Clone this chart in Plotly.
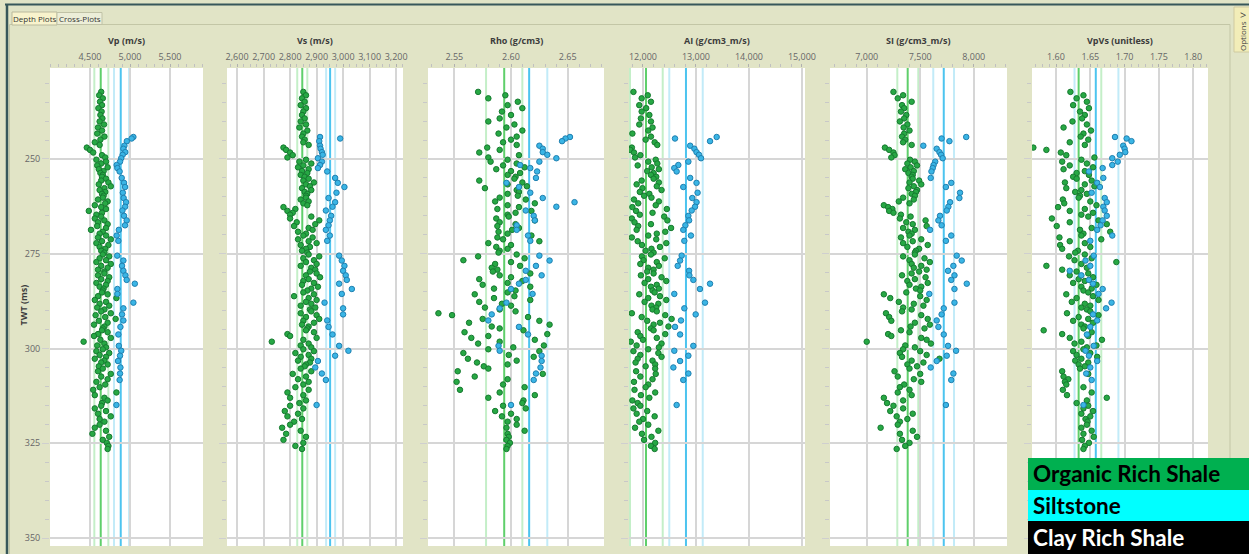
import plotly.graph_objects as go

W, H = 1249, 554

# ---------------- sample times (ms) ----------------
twt_org = [
    232.3, 233.2, 234.0, 234.9, 235.8, 236.6, 237.5, 238.4, 239.3,
    240.1, 240.9, 241.7, 242.5, 243.3, 244.1, 244.9,
    245.6, 246.3, 247.0, 247.6, 248.3, 249.0, 249.6,
    250.2, 250.7, 251.2, 251.7, 252.2, 252.7, 253.2, 253.7, 254.2, 254.7,
    255.2, 255.7, 256.2, 256.7, 257.2, 257.7, 258.2, 258.7, 259.2, 259.7,
    260.2, 260.7, 261.2, 261.7, 262.2, 262.7, 263.2, 263.7, 264.2, 264.7,
    265.2, 265.7, 266.2, 266.7, 267.2, 267.7, 268.2, 268.7, 269.2, 269.7,
    270.2, 270.7, 271.2, 271.7, 272.2, 272.7, 273.2, 273.7, 274.2, 274.7,
    275.2, 275.7, 276.2, 276.7, 277.2, 277.7, 278.2, 278.7, 279.2, 279.7,
    280.2, 280.7, 281.2, 281.7, 282.2, 282.7, 283.2, 283.7, 284.2, 284.7,
    285.2, 285.7, 286.2, 286.7, 287.2, 287.7, 288.2, 288.7, 289.2, 289.7,
    290.2, 290.7, 291.2, 291.7, 292.2, 292.7, 293.2, 293.7, 294.2, 294.7,
    295.2, 295.7, 296.2, 296.7, 297.2, 297.7, 298.2, 298.7, 299.2, 299.7,
    300.2, 300.7, 301.2, 301.7, 302.2, 302.7, 303.2, 303.7, 304.2, 304.7,
    305.3, 306.0, 306.7, 307.4, 308.1, 308.8, 309.5,
    310.2, 310.9, 311.6, 312.3, 313.0, 313.7, 314.4,
    315.1, 315.8, 316.5, 317.2, 317.9, 318.6, 319.3,
    320.1, 320.9, 321.7, 322.5, 323.3, 324.1, 324.9, 325.7, 326.5,
]
twt_silt = [
    244.2, 244.6, 245.3, 246.5, 247.3, 248.2, 248.9, 249.8, 250.7, 251.6,
    252.4, 253.3, 255.0, 256.3, 257.4, 258.9, 260.3, 261.4, 262.6, 263.6,
    265.0, 266.2, 267.5, 268.7, 270.2, 271.6, 275.5, 276.8, 278.2, 279.5,
    280.7, 281.9, 282.9, 284.3, 285.6, 287.9, 289.4, 291.0, 292.6, 294.3,
    296.3, 299.3, 300.6, 301.9, 303.3, 305.0, 306.6, 308.3, 314.9,
]

# ---------------- Vp (m/s) ----------------
vp_org = [
    4640, 4615, 4660, 4625, 4650, 4605, 4645, 4630, 4655,
    4620, 4675, 4600, 4650, 4590, 4680, 4630,
    4560, 4620, 4460, 4500, 4540, 4650, 4690,
    4580, 4700, 4640, 4590, 4720, 4610, 4670, 4630, 4660, 4650,
    4700, 4640, 4730, 4610, 4760, 4680, 4620, 4690, 4650, 4670,
    4660, 4600, 4720, 4690, 4560, 4640, 4700, 4485, 4650, 4580,
    4640, 4560, 4680, 4600, 4720, 4590, 4700, 4512, 4660, 4620,
    4700, 4600, 4760, 4650, 4580, 4730, 4620, 4690, 4640, 4680,
    4660, 4740, 4620, 4700, 4580, 4760, 4640, 4720, 4600, 4680,
    4680, 4600, 4740, 4640, 4720, 4580, 4700, 4620, 4670, 4660,
    4650, 4720, 4600, 4830, 4560, 4700, 4620, 4740, 4590, 4680,
    4640, 4760, 4570, 4690, 4820, 4610, 4720, 4550, 4680, 4660,
    4650, 4720, 4600, 4550, 4760, 4630, 4420, 4680, 4590, 4700,
    4660, 4580, 4740, 4620, 4700, 4560, 4680, 4640, 4720, 4610,
    4660, 4600, 4760, 4640, 4720, 4580, 4690,
    4620, 4540, 4830, 4560, 4680, 4720, 4650,
    4640, 4560, 4700, 4600, 4760, 4620, 4680,
    4620, 4560, 4700, 4530, 4740, 4660, 4710, 4730, 4720,
]
vp_silt = [
    5042, 5020, 4960, 4930, 4917, 4940, 4908, 4890, 4875, 4833,
    4842, 4870, 4896, 4925, 4938, 4910, 4920, 4950, 4938, 4905,
    4925, 4958, 4938, 4860, 4833, 4854, 4840, 4917, 4900, 4917,
    4942, 4958, 5060, 4842, 4842, 5042, 4917, 4900, 4917, 4880,
    4854, 4860, 4890, 4875, 4850, 4880, 4875, 4870, 4830,
]

# ---------------- Vs (m/s) ----------------
vs_org = [
    2850, 2860, 2845, 2855, 2840, 2860, 2850, 2845, 2855,
    2840, 2860, 2835, 2865, 2850, 2845, 2855,
    2850, 2870, 2775, 2785, 2800, 2810, 2790,
    2860, 2835, 2880, 2850, 2830, 2870, 2845, 2865, 2840, 2855,
    2870, 2850, 2890, 2860, 2875, 2845, 2880, 2855, 2865, 2860,
    2860, 2840, 2870, 2850, 2865, 2775, 2820, 2790, 2810, 2800,
    2880, 2800, 2910, 2825, 2895, 2815, 2870, 2885, 2830, 2860,
    2850, 2885, 2830, 2870, 2900, 2840, 2875, 2860, 2845, 2865,
    2870, 2910, 2850, 2890, 2860, 2900, 2840, 2880, 2895, 2875,
    2900, 2860, 2913, 2870, 2850, 2890, 2845, 2905, 2880, 2865,
    2850, 2890, 2815, 2870, 2900, 2860, 2880, 2840, 2895, 2875,
    2880, 2840, 2900, 2860, 2910, 2850, 2890, 2845, 2870, 2865,
    2860, 2890, 2790, 2800, 2900, 2850, 2731, 2870, 2840, 2880,
    2850, 2890, 2820, 2870, 2840, 2880, 2830, 2875, 2860, 2855,
    2840, 2880, 2810, 2860, 2830, 2870, 2850,
    2820, 2870, 2790, 2850, 2800, 2860, 2835,
    2800, 2850, 2780, 2830, 2790, 2845, 2815,
    2800, 2770, 2840, 2785, 2860, 2775, 2850, 2820, 2845,
]
vs_silt = [
    2913, 2989, 2910, 2913, 2915, 2920, 2923, 2905, 2920, 2913,
    2905, 2940, 2970, 2980, 3005, 2975, 2945, 2970, 2960, 2935,
    2955, 2950, 2945, 2935, 2950, 2940, 2985, 2995, 3005, 3000,
    3010, 3014, 2985, 3033, 2995, 2930, 3000, 3000, 2940, 2945,
    2960, 2985, 3020, 2970, 2905, 2895, 2920, 2935, 2900,
]

# ---------------- Rho (g/cm3) ----------------
rho_org = [
    2.571, 2.595, 2.580, 2.606, 2.597, 2.610, 2.592, 2.600, 2.590,
    2.580, 2.603, 2.596, 2.610, 2.589, 2.605, 2.600,
    2.593, 2.605, 2.579, 2.590, 2.572, 2.607, 2.580,
    2.597, 2.582, 2.605, 2.593, 2.612, 2.587, 2.600, 2.608, 2.597, 2.604,
    2.603, 2.572, 2.610, 2.597, 2.614, 2.577, 2.605, 2.607, 2.597, 2.606,
    2.590, 2.613, 2.586, 2.621, 2.597, 2.607, 2.588, 2.618, 2.604, 2.597,
    2.598, 2.587, 2.621, 2.590, 2.604, 2.588, 2.607, 2.601, 2.589, 2.597,
    2.618, 2.588, 2.593, 2.625, 2.580, 2.600, 2.587, 2.597, 2.590, 2.589,
    2.605, 2.571, 2.612, 2.558, 2.600, 2.586, 2.608, 2.583, 2.588, 2.584,
    2.617, 2.590, 2.600, 2.572, 2.610, 2.597, 2.575, 2.617, 2.585, 2.604,
    2.597, 2.568, 2.603, 2.585, 2.617, 2.572, 2.592, 2.600, 2.577, 2.590,
    2.604, 2.536, 2.548, 2.615, 2.575, 2.625, 2.563, 2.634, 2.583, 2.590,
    2.611, 2.559, 2.632, 2.580, 2.565, 2.621, 2.590, 2.571, 2.629, 2.602,
    2.580, 2.625, 2.558, 2.598, 2.620, 2.562, 2.605, 2.570, 2.597, 2.576,
    2.580, 2.553, 2.628, 2.568, 2.597, 2.552, 2.593,
    2.612, 2.555, 2.590, 2.621, 2.580, 2.611, 2.610,
    2.593, 2.613, 2.586, 2.600, 2.592, 2.605, 2.597,
    2.605, 2.596, 2.612, 2.597, 2.598, 2.596, 2.599, 2.597, 2.596,
]
rho_silt = [
    2.652, 2.648, 2.645, 2.625, 2.628, 2.628, 2.632, 2.640, 2.625, 2.608,
    2.617, 2.623, 2.622, 2.596, 2.607, 2.617, 2.628, 2.656, 2.640, 2.613,
    2.620, 2.621, 2.605, 2.605, 2.615, 2.617, 2.625, 2.634, 2.622, 2.613,
    2.627, 2.613, 2.607, 2.600, 2.619, 2.596, 2.590, 2.583, 2.580, 2.607,
    2.615, 2.589, 2.590, 2.627, 2.627, 2.626, 2.622, 2.620, 2.600,
]

# ---------------- AI (g/cm3_m/s) ----------------
ai_org = [
    11820, 12090, 11975, 12150, 11930, 12060, 11975, 12120, 11960,
    12150, 11930, 12180, 12100, 11800, 12150, 12050,
    12220, 12270, 11790, 11760, 11830, 11950, 11850,
    12240, 12100, 12270, 11900, 12164, 12300, 12080, 12200, 12150, 12250,
    12200, 11975, 12300, 11880, 12260, 11990, 12350, 11940, 12120, 12020,
    12160, 11830, 12300, 11910, 12240, 11800, 12450, 11870, 12180, 11940,
    12400, 11790, 12460, 11840, 12150, 11910, 12530, 11880, 12420, 12260,
    12100, 11790, 12250, 11900, 12440, 11980, 12320, 12160, 12050, 12200,
    12150, 11980, 12410, 12010, 12260, 11950, 12300, 12100, 12200, 12080,
    12200, 11960, 12350, 12100, 12440, 12030, 12260, 12150, 12300, 12180,
    12220, 11930, 12320, 12100, 12440, 12030, 12290, 12160, 12250, 12180,
    12260, 11790, 12420, 11975, 12540, 12080, 12320, 12200, 12480, 12150,
    12200, 11900, 12420, 11950, 12260, 12000, 11770, 12350, 11880, 12300,
    12100, 11820, 12290, 11950, 12350, 11900, 12180, 11860, 12230, 12050,
    12230, 11870, 12240, 11950, 12180, 11830, 12100,
    12050, 11840, 12230, 11960, 12120, 11800, 11900,
    11950, 11820, 12080, 11880, 12220, 12000, 11930,
    12100, 11850, 12290, 11980, 12160, 12020, 12230, 12150, 12220,
]
ai_silt = [
    13390, 12604, 13265, 12890, 12970, 13010, 13057, 13095, 12856, 12667,
    12591, 12635, 12890, 13010, 12760, 13030, 12930, 13010, 12982, 12919,
    12856, 12870, 12800, 12760, 12905, 12780, 12730, 12700, 12655, 12870,
    12875, 12950, 13265, 13075, 12591, 13170, 12780, 12994, 12717, 12604,
    12700, 12950, 12591, 12856, 12700, 12573, 12856, 12760, 12635,
]

# ---------------- SI (g/cm3_m/s) ----------------
si_org = [
    7250, 7340, 7290, 7420, 7330, 7350, 7320, 7370, 7350,
    7310, 7380, 7345, 7400, 7350, 7330, 7360,
    7340, 7420, 7170, 7210, 7250, 7260, 7230,
    7405, 7450, 7380, 7470, 7410, 7360, 7440, 7390, 7430, 7420,
    7430, 7490, 7400, 7510, 7440, 7390, 7470, 7460, 7420, 7450,
    7340, 7440, 7300, 7400, 7160, 7200, 7240, 7210, 7250, 7320,
    7410, 7310, 7550, 7370, 7430, 7560, 7340, 7450, 7390, 7420,
    7400, 7320, 7510, 7430, 7340, 7570, 7380, 7490, 7460, 7450,
    7450, 7340, 7540, 7400, 7590, 7420, 7510, 7440, 7560, 7490,
    7420, 7330, 7550, 7450, 7380, 7570, 7400, 7510, 7460, 7500,
    7370, 7160, 7500, 7220, 7560, 7300, 7440, 7530, 7340, 7420,
    7330, 7180, 7510, 7210, 7570, 7230, 7450, 7590, 7410, 7540,
    7320, 7400, 7200, 7230, 7510, 7560, 7000, 7600, 7360, 7450,
    7340, 7500, 7310, 7560, 7330, 7680, 7420, 7530, 7380, 7470,
    7400, 7260, 7500, 7290, 7440, 7510, 7350,
    7310, 7400, 7290, 7420, 7160, 7340, 7190,
    7250, 7340, 7220, 7430, 7280, 7380, 7310,
    7290, 7130, 7430, 7310, 7470, 7330, 7400, 7360, 7280,
]
si_silt = [
    7930, 7700, 7773, 7529, 7654, 7680, 7695, 7710, 7640, 7625,
    7617, 7605, 7598, 7790, 7740, 7872, 7866, 7779, 7763, 7748,
    7685, 7670, 7700, 7592, 7790, 7740, 7841, 7888, 7810, 7760,
    7820, 7790, 7935, 7820, 7585, 7820, 7720, 7700, 7654, 7670,
    7720, 7760, 7835, 7748, 7654, 7598, 7810, 7790, 7740,
]

# ---------------- VpVs (unitless) ----------------
vpvs_org = [
    1.621, 1.640, 1.630, 1.645, 1.625, 1.648, 1.635, 1.642, 1.638,
    1.624, 1.645, 1.611, 1.651, 1.640, 1.636, 1.647,
    1.620, 1.642, 1.567, 1.586, 1.607, 1.615, 1.656,
    1.637, 1.609, 1.645, 1.620, 1.654, 1.611, 1.642, 1.630, 1.648, 1.625,
    1.630, 1.652, 1.613, 1.642, 1.656, 1.615, 1.637, 1.628, 1.645, 1.635,
    1.633, 1.610, 1.650, 1.612, 1.659, 1.603, 1.642, 1.620, 1.654, 1.637,
    1.647, 1.594, 1.662, 1.620, 1.674, 1.601, 1.652, 1.635, 1.679, 1.640,
    1.637, 1.605, 1.666, 1.620, 1.642, 1.606, 1.650, 1.609, 1.632, 1.628,
    1.642, 1.619, 1.652, 1.627, 1.688, 1.637, 1.586, 1.645, 1.609, 1.630,
    1.647, 1.620, 1.654, 1.633, 1.642, 1.625, 1.659, 1.637, 1.652, 1.640,
    1.647, 1.615, 1.654, 1.630, 1.662, 1.623, 1.642, 1.650, 1.637, 1.645,
    1.650, 1.616, 1.662, 1.633, 1.647, 1.625, 1.654, 1.637, 1.642, 1.640,
    1.582, 1.652, 1.609, 1.647, 1.620, 1.667, 1.637, 1.627, 1.659, 1.645,
    1.640, 1.625, 1.650, 1.630, 1.660, 1.637, 1.628, 1.647, 1.633, 1.642,
    1.635, 1.609, 1.647, 1.611, 1.618, 1.613, 1.615,
    1.640, 1.610, 1.652, 1.616, 1.674, 1.645, 1.630,
    1.647, 1.640, 1.654, 1.637, 1.650, 1.643, 1.646,
    1.645, 1.637, 1.652, 1.640, 1.655, 1.638, 1.648, 1.642, 1.640,
]
vpvs_silt = [
    1.686, 1.703, 1.710, 1.698, 1.700, 1.701, 1.693, 1.682, 1.690, 1.682,
    1.668, 1.648, 1.669, 1.660, 1.664, 1.652, 1.671, 1.674, 1.669, 1.671,
    1.674, 1.668, 1.665, 1.660, 1.682, 1.650, 1.655, 1.643, 1.650, 1.620,
    1.637, 1.648, 1.654, 1.668, 1.662, 1.681, 1.673, 1.654, 1.660, 1.650,
    1.645, 1.655, 1.643, 1.648, 1.660, 1.650, 1.644, 1.652, 1.640,
]

# ---------------- facies cut-off lines (low, mean, high) ----------------
org_lines = [
    [4554, 4634, 4729],
    [2827, 2846, 2865],
    [2.578, 2.594, 2.610],
    [11755, 12057, 12372],
    [7286, 7383, 7482],
    [1.600, 1.633, 1.666],
]
silt_lines = [
    [4800, 4884, 4988],
    [2936, 2951, 2970],
    [2.600, 2.616, 2.632],
    [12496, 12811, 13127],
    [7622, 7720, 7816],
    [1.627, 1.658, 1.691],
]

# ---------------- axis labels and ticks ----------------
log_titles = ["Vp (m/s)", "Vs (m/s)", "Rho (g/cm3)", "AI (g/cm3_m/s)",
              "SI (g/cm3_m/s)", "VpVs (unitless)"]
x_ranges = [[4000, 5912], [2562, 3226], [2.5268, 2.682], [11736, 15057],
            [6657, 8311], [1.565, 1.8216]]
x_tickvals = [
    [4500, 5000, 5500],
    [2600, 2700, 2800, 2900, 3000, 3100, 3200],
    [2.55, 2.60, 2.65],
    [12000, 13000, 14000, 15000],
    [7000, 7500, 8000],
    [1.60, 1.65, 1.70, 1.75, 1.80],
]
x_minor = [100, 25, 0.01, 200, 100, 0.01]
x_fmt = [",d", ",d", ".2f", ",d", ",d", ".2f"]
twt_ticks = [250, 275, 300, 325, 350]
legend_labels = ["Organic Rich Shale", "Siltstone", "Clay Rich Shale"]

org_values = [vp_org, vs_org, rho_org, ai_org, si_org, vpvs_org]
silt_values = [vp_silt, vs_silt, rho_silt, ai_silt, si_silt, vpvs_silt]

# pixel layout of the six tracks
track_px = [(50, 203), (227, 403), (428, 604), (629, 805), (830, 1007), (1032, 1208)]
top_px, bot_px = 68, 546


def px(x):
    return x / W


def py(y):
    return 1 - y / H


BG = "#e1e4c6"
GRID = "#d6d6d6"
FRAME = "#37575a"
fig = go.Figure()
shapes = []
annotations = []

for i in range(6):
    n = "" if i == 0 else str(i + 1)
    xa, ya = "x" + n, "y" + n

    # cut-off lines: light bands first, then the means
    for vals, light, dark in ((org_lines[i], "#c4efc8", "#5fcf6b"),
                              (silt_lines[i], "#c2ebf8", "#4cc4ef")):
        for k in (0, 2, 1):
            shapes.append(dict(type="line", xref=xa, yref="paper",
                               x0=vals[k], x1=vals[k],
                               y0=py(bot_px), y1=py(top_px), layer="below",
                               line=dict(color=dark if k == 1 else light,
                                         width=2)))

    fig.add_trace(go.Scatter(
        x=org_values[i], y=twt_org, xaxis=xa, yaxis=ya, mode="markers",
        marker=dict(size=5.5, color="#27a844",
                    line=dict(color="#167a30", width=1)),
        showlegend=False, hoverinfo="skip"))
    fig.add_trace(go.Scatter(
        x=silt_values[i], y=twt_silt, xaxis=xa, yaxis=ya, mode="markers",
        marker=dict(size=5.5, color="#3ab5e5",
                    line=dict(color="#1f80b0", width=1)),
        showlegend=False, hoverinfo="skip"))

    x0, x1 = track_px[i]
    fig.layout["xaxis" + n] = dict(
        domain=[px(x0), px(x1)], range=x_ranges[i], side="top",
        anchor=ya, tickmode="array", tickvals=x_tickvals[i],
        tickformat=x_fmt[i], showgrid=True, gridcolor=GRID, gridwidth=1.5,
        ticks="outside", ticklen=3, tickcolor="#b0b0b0",
        tickfont=dict(size=9, color="#666666", family="Open Sans"),
        minor=dict(dtick=x_minor[i], ticks="outside", ticklen=3,
                   tickcolor="#c0c0c0", showgrid=False),
        zeroline=False, showline=False, fixedrange=True)
    fig.layout["yaxis" + n] = dict(
        domain=[py(bot_px), py(top_px)], range=[352.1, 226], anchor=xa,
        tickmode="array", tickvals=twt_ticks, showticklabels=(i == 0),
        ticks="outside", ticklen=7, tickcolor="#cfcfcf",
        tickfont=dict(size=9, color="#666666", family="Open Sans"),
        showgrid=True, gridcolor=GRID, gridwidth=1.5,
        minor=dict(dtick=5, tick0=250, ticks="outside", ticklen=4,
                   tickcolor="#c8c8c8", showgrid=False),
        zeroline=False, showline=False, fixedrange=True)

    annotations.append(dict(
        text="<b>" + log_titles[i] + "</b>", xref="paper", yref="paper",
        x=px((x0 + x1) / 2), y=py(41), xanchor="center", yanchor="middle",
        showarrow=False,
        font=dict(size=9, color="#3c3c3c", family="Open Sans")))

# depth axis title
annotations.append(dict(text="<b>TWT (ms)</b>", xref="paper", yref="paper",
                        x=px(22.5), y=py(305), xanchor="center",
                        yanchor="middle", textangle=-90, showarrow=False,
                        font=dict(size=9, color="#3c3c3c", family="Open Sans")))

# window frame and tabs
shapes += [
    dict(type="line", xref="paper", yref="paper", x0=px(5), x1=1,
         y0=py(4.5), y1=py(4.5), line=dict(color=FRAME, width=2)),
    dict(type="line", xref="paper", yref="paper", x0=px(7), x1=px(7),
         y0=py(4), y1=0, line=dict(color=FRAME, width=2.5)),
    dict(type="line", xref="paper", yref="paper", x0=px(9.5), x1=px(1230),
         y0=py(24.5), y1=py(24.5), line=dict(color="#c3c6a6", width=1)),
    dict(type="line", xref="paper", yref="paper", x0=px(9.5), x1=px(9.5),
         y0=py(24.5), y1=0, line=dict(color="#c3c6a6", width=1)),
    dict(type="line", xref="paper", yref="paper", x0=px(1230), x1=px(1230),
         y0=py(24.5), y1=0, line=dict(color="#c3c6a6", width=1)),
    dict(type="rect", xref="paper", yref="paper", x0=px(12), x1=px(57),
         y0=py(25), y1=py(12), fillcolor="#f8f3cc",
         line=dict(color="#b9b99c", width=1)),
    dict(type="rect", xref="paper", yref="paper", x0=px(57), x1=px(102),
         y0=py(24.5), y1=py(12.5), fillcolor="#eceed8",
         line=dict(color="#c0c2a6", width=1)),
    dict(type="rect", xref="paper", yref="paper", x0=px(1234), x1=px(1252),
         y0=py(52), y1=py(7), fillcolor="#f2edb8",
         line=dict(color="#cfcaa0", width=1)),
]
annotations += [
    dict(text="Depth Plots", xref="paper", yref="paper", x=px(34.5),
         y=py(18.5), xanchor="center", yanchor="middle", showarrow=False,
         font=dict(size=8, color="#333333", family="Open Sans")),
    dict(text="Cross-Plots", xref="paper", yref="paper", x=px(79.5),
         y=py(18.5), xanchor="center", yanchor="middle", showarrow=False,
         font=dict(size=8, color="#333333", family="Open Sans")),
    dict(text="Options", xref="paper", yref="paper", x=px(1242), y=py(36),
         xanchor="center", yanchor="middle", textangle=-90, showarrow=False,
         font=dict(size=8, color="#444444", family="Open Sans")),
    dict(text="&gt;", xref="paper", yref="paper", x=px(1243), y=py(14),
         xanchor="center", yanchor="middle", showarrow=False,
         font=dict(size=11, color="#444444", family="Open Sans")),
]

# facies key
key_rows = [(458, 490, "#00b050", "#000000"), (490, 521, "#00ffff", "#000000"),
            (521, 554, "#000000", "#ffffff")]
for (y0, y1, fill, txt), label in zip(key_rows, legend_labels):
    shapes.append(dict(type="rect", xref="paper", yref="paper", x0=px(1028),
                       x1=1, y0=py(y1), y1=py(y0), fillcolor=fill,
                       line=dict(width=0), layer="above"))
    annotations.append(dict(text="<b>" + label + "</b>", xref="paper",
                            yref="paper", x=px(1031), y=py((y0 + y1) / 2),
                            xanchor="left", yanchor="middle", showarrow=False,
                            font=dict(size=22.5, color=txt, family="Lato")))

fig.update_layout(
    width=W, height=H, margin=dict(l=0, r=0, t=0, b=0, autoexpand=False),
    paper_bgcolor=BG, plot_bgcolor="#ffffff", showlegend=False,
    shapes=shapes, annotations=annotations,
)

fig.write_html("out.html")
